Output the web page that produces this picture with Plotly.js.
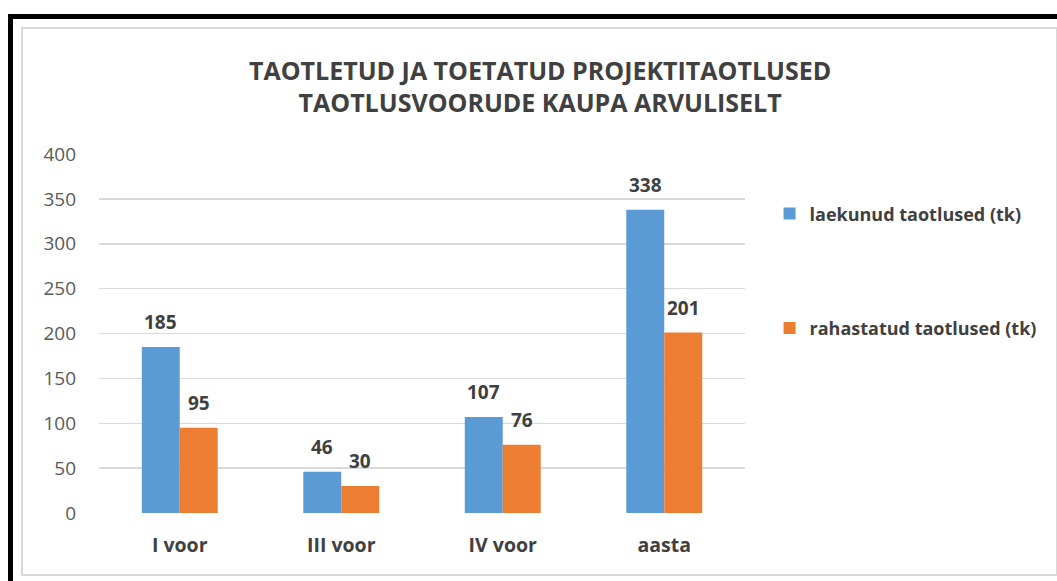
<!DOCTYPE html>
<html><head><meta charset="utf-8">
<script src="https://cdn.plot.ly/plotly-3.0.1.min.js"></script>
<style>
html,body{margin:0;padding:0;background:#fff;}
#wrap{position:relative;width:1057px;height:581px;overflow:hidden;}
#chart{position:absolute;left:0;top:0;width:1057px;height:581px;}
.b{position:absolute;pointer-events:none;}
</style></head><body>
<div id="wrap">
<div id="chart"></div>
<div class="b" style="left:8px;top:14px;width:1049px;height:5px;background:#000;"></div>
<div class="b" style="left:8px;top:14px;width:5px;height:567px;background:#000;"></div>
<div class="b" style="left:21px;top:27px;width:1033px;height:545px;border:2px solid #d9d9d9;"></div>
</div>
<script>
const categories = ['I voor', 'III voor', 'IV voor', 'aasta'];
const seriesNames = ['laekunud taotlused (tk)', 'rahastatud taotlused (tk)'];
const received = [185, 46, 107, 338];
const funded = [95, 30, 76, 201];
const yTicks = [0, 50, 100, 150, 200, 250, 300, 350, 400];

const colors = ['#5B9BD5', '#ED7D31'];
const FONT = 'Open Sans, Noto Sans, sans-serif';
const series = [received, funded];

const traces = series.map((vals, i) => ({
  type: 'bar', x: categories, y: vals, name: seriesNames[i],
  legendgroup: 'g' + i,
  marker: {color: colors[i]},
  hoverinfo: 'skip'
}));

const annotations = [];
series.forEach((vals, i) => {
  vals.forEach((v, j) => {
    annotations.push({
      x: categories[j], y: v, xref: 'x', yref: 'y',
      text: '<b>' + v + '</b>', showarrow: false,
      yanchor: 'bottom', xanchor: 'center',
      xshift: i === 0 ? -19 : 19, yshift: 10,
      font: {family: FONT, size: 19, color: '#404040'}
    });
  });
});

const layout = {
  width: 1057, height: 581,
  paper_bgcolor: '#fff', plot_bgcolor: '#fff',
  margin: {l: 99, r: 312, t: 154, b: 68},
  title: {
    text: '<b>TAOTLETUD JA TOETATUD PROJEKTITAOTLUSED<br>TAOTLUSVOORUDE KAUPA ARVULISELT</b>',
    font: {family: FONT, size: 25, color: '#404040'},
    x: 0.511, xanchor: 'center', xref: 'container',
    y: 0.863, yanchor: 'middle', yref: 'container'
  },
  barmode: 'group', bargap: 0.53, bargroupgap: 0,
  xaxis: {
    type: 'category', showgrid: false, zeroline: false, showline: false,
    ticks: '', ticklabelstandoff: 18,
    tickfont: {family: FONT, size: 19.5, color: '#404040'},
    tickprefix: '<b>', ticksuffix: '</b>'
  },
  yaxis: {
    range: [0, 400], tickvals: yTicks, ticktext: yTicks.map(String),
    showgrid: true, gridcolor: '#d9d9d9', gridwidth: 1.5,
    zeroline: false, showline: false, ticks: '', ticklabelstandoff: 22,
    tickfont: {family: FONT, size: 19, color: '#595959'}
  },
  showlegend: true,
  legend: {
    x: 1.038, xanchor: 'left', y: 0.885, yanchor: 'top',
    font: {family: FONT, size: 18, color: '#404040', weight: 'bold'},
    tracegroupgap: 88, itemwidth: 30, traceorder: 'grouped',
    bgcolor: 'rgba(0,0,0,0)'
  },
  annotations: annotations
};

Plotly.newPlot('chart', traces, layout, {displayModeBar: false, staticPlot: true});
</script>
</body></html>
